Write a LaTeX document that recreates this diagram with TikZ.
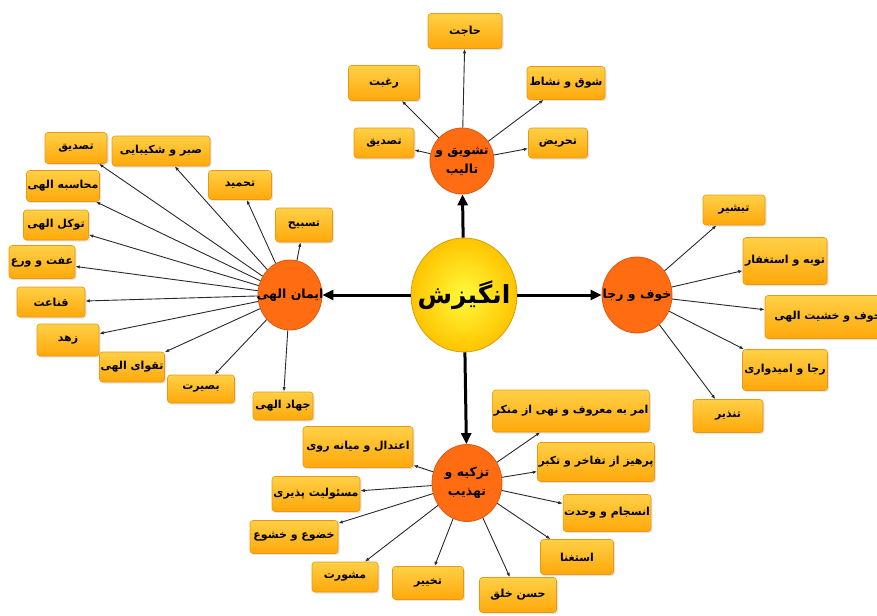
\documentclass[tikz,border=0pt]{standalone}
\usepackage{fontspec}
\TeXXeTstate=1
\newfontfamily\arfont[Script=Arabic]{DejaVu Sans}
\usetikzlibrary{shapes.geometric,shadows,arrows.meta}
\newcommand\rtl[1]{\beginR#1\endR}
\newcommand\zrtl[1]{\makebox[0pt]{\beginR#1\endR}}
\definecolor{boxtop}{RGB}{255,208,70}
\definecolor{boxbot}{RGB}{255,168,10}
\definecolor{boxline}{RGB}{232,152,20}
\definecolor{circfill}{RGB}{255,108,18}
\definecolor{circline}{RGB}{222,88,20}
\definecolor{yelin}{RGB}{255,250,60}
\definecolor{yelout}{RGB}{255,196,0}
\definecolor{yelline}{RGB}{215,160,0}
\definecolor{arrgray}{RGB}{40,40,50}
\tikzset{
  box/.style={rectangle, rounded corners=3pt, draw=boxline, line width=0.6pt,
    top color=boxtop, bottom color=boxbot,
    drop shadow={opacity=0.22, shadow xshift=1.5pt, shadow yshift=-1.5pt},
    font=\arfont\bfseries\fontsize{11}{13}\selectfont, inner sep=1pt, text=black},
  sub/.style={ellipse, draw=circline, fill=circfill, line width=0.8pt, inner sep=0pt,
    align=center, font=\arfont\bfseries\fontsize{12.5}{19}\selectfont, text=black},
  mainc/.style={ellipse, draw=yelline, line width=0.8pt, inner sep=0pt,
    inner color=yelin, outer color=yelout,
    font=\arfont\bfseries\fontsize{25}{28}\selectfont, text=black},
  arr/.style={-{Latex[length=4.5pt,width=3.4pt]}, line width=0.9pt, draw=arrgray},
  big/.style={-{Triangle[length=11pt,width=10pt]}, line width=3pt, draw=black},
}
\begin{document}
\begin{tikzpicture}[x=1pt,y=-1pt]
\useasboundingbox (0,0) rectangle (877,615);
% circles
\node[mainc, minimum width=106, minimum height=114] (angiz) at (464,295) {\zrtl{انگیزش}};
\node[sub, minimum width=64, minimum height=66] (tash) at (462,161) {\zrtl{تشویق و}\\\zrtl{تالیب}};
\node[sub, minimum width=64, minimum height=70] (iman) at (290,295) {\zrtl{ایمان الهی}};
\node[sub, minimum width=70, minimum height=76] (khof) at (637,295) {\zrtl{خوف و رجا}};
\node[sub, minimum width=70, minimum height=77] (tazk) at (467,483) {\zrtl{تزکیه و}\\\zrtl{تهذیب}};
% top boxes
\node[box, minimum width=74, minimum height=35] (hajat) at (465,31) {\rtl{حاجت}};
\node[box, minimum width=71, minimum height=35] (raghbat) at (384,83) {\rtl{رغبت}};
\node[box, minimum width=78, minimum height=33] (shoq) at (566,83) {\rtl{شوق و نشاط}};
\node[box, minimum width=60, minimum height=30] (tasdiqa) at (384,143) {\rtl{تصدیق}};
\node[box, minimum width=59, minimum height=30] (tahriz) at (558,143) {\rtl{تحریض}};
% left boxes
\node[box, minimum width=62, minimum height=31] (tasdiqb) at (76,148) {\rtl{تصدیق}};
\node[box, minimum width=98, minimum height=30] (sabr) at (161,151) {\rtl{صبر و شکیبایی}};
\node[box, minimum width=73, minimum height=31] (mohasebe) at (63,186) {\rtl{محاسبه الهی}};
\node[box, minimum width=63, minimum height=29] (tahmid) at (240,185) {\rtl{تحمید}};
\node[box, minimum width=57, minimum height=34] (tasbih) at (304,225) {\rtl{تسبیح}};
\node[box, minimum width=65, minimum height=30] (tavakkol) at (56,225) {\rtl{توکل الهی}};
\node[box, minimum width=66, minimum height=33] (effat) at (42,262) {\rtl{عفت و ورع}};
\node[box, minimum width=68, minimum height=30] (ghanaat) at (51,302) {\rtl{قناعت}};
\node[box, minimum width=62, minimum height=32] (zohd) at (68,340) {\rtl{زهد}};
\node[box, minimum width=59, minimum height=30] (taqva) at (132,367) {\rtl{تقوای الهی}};
\node[box, minimum width=67, minimum height=28] (basirat) at (201,389) {\rtl{بصیرت}};
\node[box, minimum width=60, minimum height=28] (jahad) at (283,406) {\rtl{جهاد الهی}};
% right boxes
\node[box, minimum width=62, minimum height=30] (tabshir) at (734,210) {\rtl{تبشیر}};
\node[box, minimum width=84, minimum height=47] (tobe) at (785,261) {\rtl{توبه و استغفار}};
\node[box, minimum width=126, minimum height=43] (khashiat) at (828,317) {\rtl{خوف و خشیت الهی}};
\node[box, minimum width=85, minimum height=41] (raja) at (785,370) {\rtl{رجا و امیدواری}};
\node[box, minimum width=70, minimum height=33] (tanzir) at (728,416) {\rtl{تنذیر}};
% bottom boxes
\node[box, minimum width=152, minimum height=42] (amr) at (571,411) {\rtl{امر به معروف و نهی از منکر}};
\node[box, minimum width=112, minimum height=39] (parhiz) at (596,462) {\rtl{پرهیز از تفاخر و تکبر}};
\node[box, minimum width=84, minimum height=37] (ensejam) at (607,513) {\rtl{انسجام و وحدت}};
\node[box, minimum width=73, minimum height=35] (esteghna) at (577,557) {\rtl{استغنا}};
\node[box, minimum width=77, minimum height=35] (hosn) at (518,595) {\rtl{حسن خلق}};
\node[box, minimum width=71, minimum height=33] (takhyir) at (428,583) {\rtl{تخییر}};
\node[box, minimum width=66, minimum height=30] (mashvarat) at (345,577) {\rtl{مشورت}};
\node[box, minimum width=88, minimum height=33] (khozu) at (294,537) {\rtl{خضوع و خشوع}};
\node[box, minimum width=88, minimum height=35] (masuliat) at (316,494) {\rtl{مسئولیت پذیری}};
\node[box, minimum width=110, minimum height=41] (etedal) at (358,447) {\rtl{اعتدال و میانه روی}};
% thick arrows
\draw[big] (angiz) -- (tash);
\draw[big] (angiz) -- (iman);
\draw[big] (angiz) -- (khof);
\draw[big] (angiz) -- (tazk);
% thin arrows
\foreach \t in {hajat,raghbat,shoq,tasdiqa,tahriz} \draw[arr] (tash) -- (\t);
\foreach \t in {tasdiqb,sabr,mohasebe,tahmid,tasbih,tavakkol,effat,ghanaat,zohd,taqva,basirat,jahad} \draw[arr] (iman) -- (\t);
\foreach \t in {tabshir,tobe,khashiat,raja,tanzir} \draw[arr] (khof) -- (\t);
\foreach \t in {amr,parhiz,ensejam,esteghna,hosn,takhyir,mashvarat,khozu,masuliat,etedal} \draw[arr] (tazk) -- (\t);
\end{tikzpicture}
\end{document}
